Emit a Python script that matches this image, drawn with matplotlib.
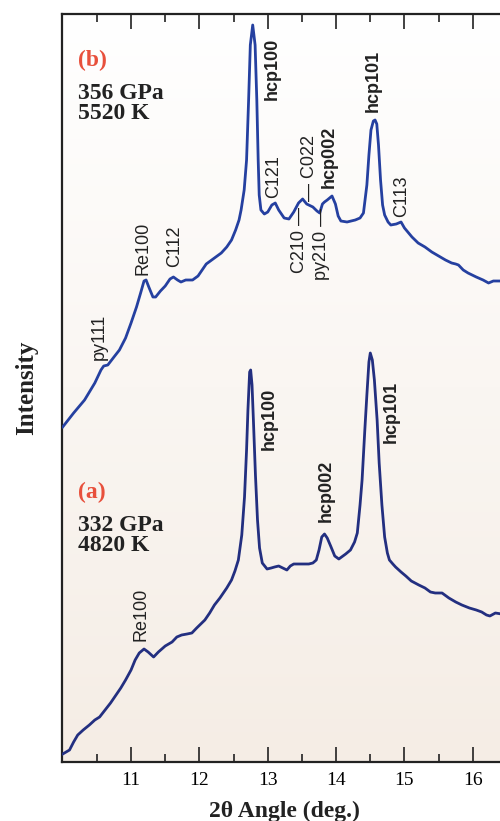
import numpy as np
import matplotlib
matplotlib.use("Agg")
import matplotlib.pyplot as plt

# (b) 356 GPa / 5520 K
two_theta_b = [10.00, 10.16, 10.32, 10.47, 10.56, 10.60, 10.66, 10.75, 10.83, 10.92,
               11.00, 11.08, 11.14, 11.19, 11.22, 11.26, 11.32, 11.36, 11.43, 11.50,
               11.57, 11.62, 11.68, 11.73, 11.80, 11.90, 11.98, 12.04, 12.10, 12.20,
               12.32, 12.40, 12.47, 12.53, 12.58, 12.61, 12.655, 12.69, 12.72, 12.745,
               12.78, 12.815, 12.84, 12.86, 12.875, 12.90, 12.95, 13.00, 13.06, 13.11,
               13.16, 13.24, 13.31, 13.38, 13.45, 13.51, 13.57, 13.66, 13.72, 13.76,
               13.80, 13.83, 13.87, 13.94, 13.99, 14.03, 14.07, 14.16, 14.28, 14.35,
               14.40, 14.45, 14.48, 14.51, 14.545, 14.57, 14.595, 14.62, 14.65, 14.68,
               14.71, 14.76, 14.80, 14.88, 14.95, 15.00, 15.11, 15.20, 15.30, 15.40,
               15.50, 15.60, 15.69, 15.75, 15.79, 15.86, 15.93, 16.05, 16.15, 16.23,
               16.30, 16.42]
intensity_b = [335, 349, 362, 379, 392, 396, 397, 405, 412, 424,
               439, 455, 469, 481, 482, 475, 465, 465, 471, 476,
               483, 485, 482, 480, 482, 482, 486, 492, 498, 503,
               509, 515, 522, 532, 542, 552, 572, 602, 662, 717,
               737, 717, 662, 602, 567, 552, 548, 550, 557, 559,
               552, 544, 543, 550, 559, 563, 558, 555, 551, 549,
               558, 560, 562, 566, 558, 546, 541, 540, 542, 544,
               549, 577, 607, 632, 641, 642, 638, 617, 582, 557,
               547, 540, 537, 538, 540, 534, 525, 519, 515, 510,
               506, 502, 499, 498, 497, 492, 489, 485, 482, 479,
               481, 481]

# (a) 332 GPa / 4820 K
two_theta_a = [10.00, 10.05, 10.10, 10.16, 10.22, 10.30, 10.39, 10.47, 10.54, 10.62,
               10.70, 10.78, 10.85, 10.92, 11.00, 11.06, 11.12, 11.19, 11.25, 11.33,
               11.40, 11.50, 11.60, 11.67, 11.74, 11.82, 11.89, 11.96, 12.02, 12.08,
               12.15, 12.22, 12.30, 12.40, 12.47, 12.52, 12.57, 12.62, 12.66, 12.69,
               12.71, 12.735, 12.75, 12.77, 12.79, 12.82, 12.85, 12.88, 12.92, 12.99,
               13.05, 13.10, 13.16, 13.22, 13.28, 13.33, 13.38, 13.50, 13.60, 13.66,
               13.71, 13.75, 13.79, 13.83, 13.87, 13.92, 13.98, 14.04, 14.08, 14.14,
               14.21, 14.27, 14.31, 14.35, 14.38, 14.42, 14.45, 14.48, 14.50, 14.53,
               14.56, 14.60, 14.63, 14.67, 14.71, 14.75, 14.78, 14.83, 14.87, 14.95,
               15.02, 15.10, 15.21, 15.30, 15.38, 15.45, 15.55, 15.65, 15.75, 15.84,
               15.95, 16.05, 16.13, 16.20, 16.25, 16.33, 16.42]
intensity_a = [8, 10, 12, 20, 27, 32, 37, 42, 45, 52,
               59, 67, 74, 82, 92, 102, 109, 113, 110, 105,
               110, 116, 120, 125, 127, 128, 129, 134, 138, 142,
               149, 157, 164, 174, 182, 191, 202, 227, 265, 312,
               352, 390, 392, 377, 342, 287, 242, 214, 199, 193,
               194, 195, 196, 194, 192, 196, 198, 198, 198, 199,
               202, 212, 225, 228, 224, 216, 206, 203, 205, 208,
               212, 220, 229, 257, 282, 332, 367, 400, 409, 402,
               382, 342, 299, 257, 225, 209, 202, 198, 195, 190,
               186, 181, 177, 174, 170, 169, 169, 164, 160, 157,
               154, 152, 150, 147, 146, 149, 148]

# peak labels: (text, 2theta, intensity of label centre, bold)
labels_b = [("py111", 10.54, 425, False), ("Re100", 11.17, 514, False),
            ("C112", 11.64, 516, False), ("hcp100", 13.06, 693, True),
            ("C121", 13.08, 585, False), ("C210 —", 13.46, 522, False),
            ("— C022", 13.61, 594, False), ("py210 —", 13.78, 518, False),
            ("hcp002", 13.90, 605, True), ("hcp101", 14.54, 681, True),
            ("C113", 14.96, 566, False)]
labels_a = [("Re100", 11.15, 148, False), ("hcp100", 13.02, 343, True),
            ("hcp002", 13.85, 271, True), ("hcp101", 14.81, 350, True)]

fig = plt.figure(figsize=(5.0, 8.21), dpi=100)
ax = fig.add_axes([62 / 500, 59 / 821, 445 / 500, 748 / 821])

# soft white -> beige background
grad = np.linspace(0, 1, 256).reshape(-1, 1)
top = np.array([1.0, 1.0, 1.0])
bot = np.array([245, 237, 229]) / 255
img = top * (1 - grad[..., None]) + bot * grad[..., None]
ax.imshow(img, extent=[0, 1, 0, 1], transform=ax.transAxes, aspect="auto",
          origin="upper", zorder=0)

ax.plot(two_theta_b, intensity_b, color="#2540a0", lw=2.0, zorder=3,
        solid_joinstyle="round")
ax.plot(two_theta_a, intensity_a, color="#232f80", lw=2.0, zorder=3,
        solid_joinstyle="round")

for txt, x, y, bold in labels_b + labels_a:
    ax.text(x, y, txt, rotation=90, ha="center", va="center",
            family="Liberation Sans", fontsize=13,
            fontweight="bold" if bold else "normal", color="#222222", zorder=4)

serif = "Liberation Serif"
ax.text(0.035, 0.938, "(b)", transform=ax.transAxes, family=serif,
        fontsize=17, fontweight="bold", color="#e8503c", va="center")
ax.text(0.035, 0.880, "356 GPa\n5520 K", transform=ax.transAxes, family=serif,
        fontsize=17, fontweight="bold", color="#222222", va="center",
        linespacing=0.95)
ax.text(0.035, 0.360, "(a)", transform=ax.transAxes, family=serif,
        fontsize=17, fontweight="bold", color="#e8503c", va="center")
ax.text(0.035, 0.303, "332 GPa\n4820 K", transform=ax.transAxes, family=serif,
        fontsize=17, fontweight="bold", color="#222222", va="center",
        linespacing=0.95)

ax.set_xlim(9.99, 9.99 + 445 / 69.2)
ax.set_ylim(0, 748)
ax.set_xticks([11, 12, 13, 14, 15, 16])
ax.set_xticks(np.arange(10.5, 16.6, 1.0), minor=True)
ax.set_yticks([])
ax.tick_params(axis="x", which="both", direction="in", top=True, bottom=True,
               color="#222222", width=1.2, labelsize=14, pad=7)
ax.tick_params(axis="x", which="major", length=11)
ax.tick_params(axis="x", which="minor", length=5.5)
for lab in ax.get_xticklabels():
    lab.set_family(serif)
for sp in ax.spines.values():
    sp.set_linewidth(1.6)
    sp.set_color("#222222")

ax.set_xlabel("2θ Angle (deg.)", family=serif, fontsize=17, fontweight="bold",
              color="#222222", labelpad=9)
ax.set_ylabel("Intensity", family=serif, fontsize=18, fontweight="bold",
              color="#222222", labelpad=17)

plt.savefig("out.png", dpi=100)
plt.close(fig)
